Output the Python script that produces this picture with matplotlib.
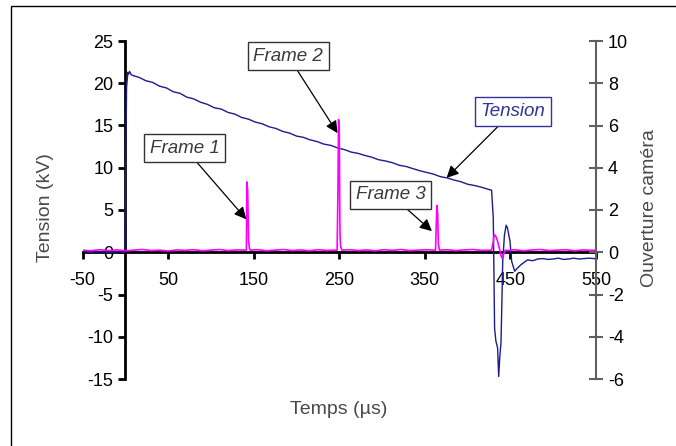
import matplotlib
matplotlib.use("Agg")
import matplotlib.pyplot as plt
from matplotlib.patches import Rectangle

plt.rcParams['font.family'] = ['Liberation Sans', 'DejaVu Sans']
plt.rcParams['axes.unicode_minus'] = False

# tension (kV) vs temps (us)
t_tension = [-50, -40, -30, -20, -10, -0.5, 0.5, 1.5, 3, 4, 5, 7,
             8, 16, 24, 32, 40, 48, 56, 64, 72, 80, 88, 96, 104, 112, 120,
             128, 136, 144, 152, 160, 168, 176, 184, 192, 200, 208, 216,
             224, 232, 240, 248, 256, 264, 272, 280, 288, 296, 304, 312,
             320, 328, 336, 344, 352, 360, 368, 376, 384, 392, 400, 408,
             416, 424, 428,
             430, 431.5, 433, 435, 436.3, 437.5, 439, 440, 441, 443, 445,
             446.5, 449.5, 451.5, 455, 458, 462, 466, 470, 476, 482, 488,
             494, 500, 506, 512, 518, 524, 530, 536, 542, 548, 550]
tension = [0.05, 0.0, 0.05, 0.0, 0.05, 0.0, 10.0, 19.5, 21.3, 21.1, 21.4, 21.0,
           20.95, 20.7, 20.3, 20.1, 19.65, 19.45, 19.0, 18.8, 18.35, 18.15,
           17.75, 17.5, 17.1, 16.95, 16.55, 16.35, 15.95, 15.75, 15.4, 15.2,
           14.85, 14.65, 14.3, 14.1, 13.75, 13.6, 13.3, 13.1, 12.8, 12.65,
           12.35, 12.15, 11.85, 11.7, 11.45, 11.25, 10.95, 10.8, 10.6, 10.3,
           10.15, 9.9, 9.65, 9.45, 9.25, 8.95, 8.8, 8.55, 8.35, 8.05, 7.9,
           7.7, 7.45, 7.35,
           4.0, -9.0, -10.5, -11.3, -14.7, -12.5, -10.7, -6.0, -1.1, 2.0, 3.2,
           2.9, 1.3, -1.1, -2.25, -1.9, -1.5, -1.2, -0.9, -1.0, -0.8, -0.75,
           -0.85, -0.8, -0.7, -0.85, -0.8, -0.7, -0.8, -0.75, -0.7, -0.75, -0.8]

# ouverture camera (right axis)
t_camera = [-50, -40, -30, -20, -10, 0, 10, 20, 30, 40, 50, 60, 70, 80, 90,
            100, 110, 120, 130, 141.5, 142, 143, 144, 145, 146, 155, 165,
            175, 185, 195, 205, 215, 225, 235, 245, 247.5, 248.5, 249.2, 250,
            250.8, 251.5, 253, 262, 272, 282, 292, 302, 312, 322, 332, 342,
            352, 362.5, 363.5, 364.2, 365, 365.8, 367, 376, 386, 396, 406,
            416, 428, 430, 431, 433, 435, 437, 439, 440, 442, 444, 446, 455,
            465, 475, 485, 495, 505, 515, 525, 535, 545, 550]
camera = [0.1, 0.07, 0.12, 0.08, 0.11, 0.07, 0.1, 0.13, 0.08, 0.1, 0.06, 0.11,
          0.09, 0.12, 0.07, 0.1, 0.13, 0.08, 0.11, 0.1, 3.33, 2.9, 0.6, 0.2,
          0.1, 0.12, 0.07, 0.1, 0.13, 0.08, 0.11, 0.07, 0.12, 0.09, 0.1, 0.1,
          3.0, 6.28, 5.8, 1.0, 0.3, 0.1, 0.12, 0.08, 0.11, 0.07, 0.12, 0.09,
          0.13, 0.08, 0.1, 0.12, 0.1, 1.5, 2.22, 1.8, 0.4, 0.1, 0.12, 0.08,
          0.11, 0.13, 0.09, 0.1, 0.5, 0.84, 0.75, 0.52, 0.2, -0.15, -0.27,
          -0.1, 0.1, 0.08, 0.12, 0.07, 0.11, 0.13, 0.08, 0.1, 0.12, 0.07,
          0.11, 0.09, 0.1]

x_ticks = [-50, 50, 150, 250, 350, 450, 550]
left_ticks = [-15, -10, -5, 0, 5, 10, 15, 20, 25]
right_ticks = [-6, -4, -2, 0, 2, 4, 6, 8, 10]

W, H = 676, 446
fig = plt.figure(figsize=(W / 100, H / 100), dpi=100)
ax = fig.add_axes([82.5 / W, 1 - 379 / H, (596 - 82.5) / W, (379 - 41) / H])
ax.set_xlim(-50, 550)
ax.set_ylim(-15, 25)
ax.spines['left'].set_position(('data', 0))
ax.spines['bottom'].set_position(('data', 0))
ax.spines['top'].set_visible(False)
ax.spines['right'].set_visible(False)
for s in ['left', 'bottom']:
    ax.spines[s].set_linewidth(2)
ax.set_xticks(x_ticks)
ax.set_yticks(left_ticks)
ax.tick_params(direction='out', length=5, width=2, labelsize=13, colors='black')
ax.tick_params(axis='x', pad=9)

ax.plot(t_tension, tension, color='#1c1c8c', lw=1.0, zorder=3)

ax2 = ax.twinx()
ax2.set_ylim(-6, 10)
for s in ['left', 'top', 'bottom']:
    ax2.spines[s].set_visible(False)
ax2.spines['right'].set_color('#606060')
ax2.spines['right'].set_linewidth(1.5)
ax2.set_yticks(right_ticks)
ax2.tick_params(direction='inout', length=10, width=1.5, color='#606060',
                labelcolor='black', labelsize=13)
ax2.plot(t_camera, camera, color='#ff00ff', lw=1.2, zorder=3)

# labels
lab_color = '#4a4a4a'
fig.text(45 / W, 1 - 208 / H, 'Tension (kV)', rotation=90, ha='center',
         va='center', fontsize=14, color=lab_color)
fig.text(339 / W, 1 - 410 / H, 'Temps (µs)', ha='center', va='center',
         fontsize=14, color=lab_color)
fig.text(650 / W, 1 - 208 / H, 'Ouverture caméra', rotation=90, ha='center',
         va='center', fontsize=14, color=lab_color)

# annotations
notes = [('Frame 1', (69.5, 12.3), (141.4, 3.9), '#3a3a3a', '#333333'),
         ('Frame 2', (190.4, 23.2), (248, 14.1), '#3a3a3a', '#333333'),
         ('Frame 3', (310.3, 6.8), (358.3, 2.5), '#3a3a3a', '#333333'),
         ('Tension', (452.9, 16.65), (375.4, 8.8), '#333399', '#333399')]
for txt, pos, tip, tc, ec in notes:
    ax2.annotate(txt, xy=tip, xycoords=ax.transData, xytext=pos,
                 textcoords=ax.transData, ha='center', va='center',
                 fontsize=13.5, style='italic', color=tc, zorder=5,
                 bbox=dict(boxstyle='square,pad=0.3', fc='white', ec=ec, lw=1),
                 arrowprops=dict(arrowstyle='-|>', color='black', lw=0.9,
                                 mutation_scale=18, shrinkA=0, shrinkB=0))

fig.add_artist(Rectangle((10.5 / W, -0.05), 1.0, 1.05 - 5.5 / H,
                         transform=fig.transFigure, fill=False, ec='black', lw=1))

fig.savefig('out.png', dpi=100)
